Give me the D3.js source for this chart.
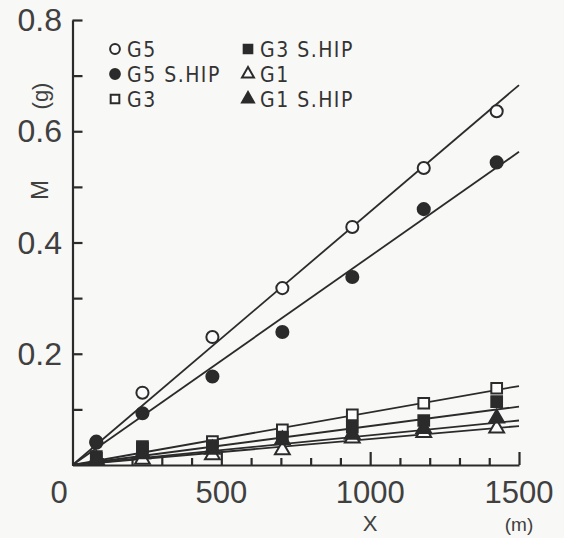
<!DOCTYPE html>
<html>
<head>
<meta charset="utf-8">
<script src="https://cdn.jsdelivr.net/npm/d3@7"></script>
<style>
  body { margin: 0; background: #f8f8f6; }
  svg { display: block; }
</style>
</head>
<body>
<svg id="chart" width="564" height="538"></svg>
<script>
// distances (m) where M was measured
const xValues = [80, 235, 470, 705, 940, 1180, 1425];

// series values (g)
const g5 = [0.040, 0.130, 0.230, 0.318, 0.428, 0.534, 0.636];
const g5Hip = [0.042, 0.093, 0.159, 0.239, 0.338, 0.460, 0.544];
const g3 = [0.015, 0.033, 0.042, 0.063, 0.090, 0.111, 0.138];
const g3Hip = [0.012, 0.030, 0.035, 0.050, 0.068, 0.080, 0.114];
const g1 = [0.008, 0.010, 0.018, 0.027, 0.048, 0.058, 0.066];
const g1Hip = [0.010, 0.020, 0.028, 0.045, 0.055, 0.065, 0.084];

// fitted lines: value of M at X = 0 and X = 1500
const fitEnds = [0, 1500];
const g5Fit = [0, 0.683];
const g5HipFit = [0, 0.563];
const g3Fit = [0, 0.142];
const g3HipFit = [0, 0.105];
const g1Fit = [0, 0.070];
const g1HipFit = [0, 0.080];

const seriesNames = ["G5", "G5 S.HIP", "G3", "G3 S.HIP", "G1", "G1 S.HIP"];

const xTickLabels = [500, 1000, 1500];
const yTickLabels = [0.2, 0.4, 0.6, 0.8];

const ink = "#2b2b2b";

let series = [
  { name: seriesNames[0], values: g5, fit: g5Fit, shape: d3.symbolCircle, filled: false },
  { name: seriesNames[1], values: g5Hip, fit: g5HipFit, shape: d3.symbolCircle, filled: true },
  { name: seriesNames[2], values: g3, fit: g3Fit, shape: d3.symbolSquare, filled: false },
  { name: seriesNames[3], values: g3Hip, fit: g3HipFit, shape: d3.symbolSquare, filled: true },
  { name: seriesNames[4], values: g1, fit: g1Fit, shape: d3.symbolTriangle, filled: false },
  { name: seriesNames[5], values: g1Hip, fit: g1HipFit, shape: d3.symbolTriangle, filled: true }
];

let svg = d3.select("#chart");

let xScale = d3.scaleLinear().domain([0, 1500]).range([72.5, 519]);
let yScale = d3.scaleLinear().domain([0, 0.8]).range([465, 20]);

// y axis, ticks pointing inside
let yAxis = d3.axisRight(yScale)
  .tickValues(d3.range(1, 9).map(i => i / 10))
  .tickSizeInner(10)
  .tickSizeOuter(0)
  .tickFormat("");

svg.append("g")
  .attr("transform", `translate(${xScale(0)},0)`)
  .call(yAxis);

// x axis, minor and major ticks pointing up
let xAxisMinor = d3.axisBottom(xScale)
  .tickValues(d3.range(1, 15).filter(i => i % 5 !== 0).map(i => i * 100))
  .tickSizeInner(-7)
  .tickSizeOuter(0)
  .tickFormat("");

let xAxisMajor = d3.axisBottom(xScale)
  .tickValues(xTickLabels)
  .tickSizeInner(-13)
  .tickSizeOuter(0)
  .tickFormat("");

svg.append("g")
  .attr("transform", `translate(0,${yScale(0)})`)
  .call(xAxisMinor);

svg.append("g")
  .attr("transform", `translate(0,${yScale(0)})`)
  .call(xAxisMajor)
  .select(".domain").remove();

svg.selectAll(".domain, .tick line")
  .attr("stroke", ink)
  .attr("stroke-width", 2.2);

// tick labels
let labelFont = "'Liberation Sans', Arial, sans-serif";
let labelInk = "#404040";

svg.append("g")
  .selectAll("text")
  .data(yTickLabels)
  .join("text")
  .attr("x", 62)
  .attr("y", d => yScale(d) + 11)
  .attr("text-anchor", "end")
  .attr("font-family", labelFont)
  .attr("font-size", 32)
  .attr("fill", labelInk)
  .text(d => d.toFixed(1));

svg.append("g")
  .selectAll("text")
  .data(xTickLabels)
  .join("text")
  .attr("x", d => xScale(d))
  .attr("y", 503)
  .attr("text-anchor", "middle")
  .attr("font-family", labelFont)
  .attr("font-size", 31)
  .attr("fill", labelInk)
  .text(d => d);

svg.append("text")
  .attr("x", 59)
  .attr("y", 503)
  .attr("text-anchor", "middle")
  .attr("font-family", labelFont)
  .attr("font-size", 31)
  .attr("fill", labelInk)
  .text("0");

// axis titles
svg.append("text")
  .attr("transform", "translate(48,190) rotate(-90)")
  .attr("text-anchor", "middle")
  .attr("font-family", labelFont)
  .attr("font-size", 24)
  .attr("fill", labelInk)
  .text("M");

svg.append("text")
  .attr("transform", "translate(48,96) rotate(-90)")
  .attr("text-anchor", "middle")
  .attr("font-family", labelFont)
  .attr("font-size", 22)
  .attr("fill", labelInk)
  .text("(g)");

svg.append("text")
  .attr("x", xScale(1000))
  .attr("y", 531)
  .attr("text-anchor", "middle")
  .attr("font-family", labelFont)
  .attr("font-size", 22)
  .attr("fill", labelInk)
  .text("X");

svg.append("text")
  .attr("x", xScale(1500))
  .attr("y", 531)
  .attr("text-anchor", "middle")
  .attr("font-family", labelFont)
  .attr("font-size", 19)
  .attr("fill", labelInk)
  .text("(m)");

// fitted lines
let fitLine = d3.line()
  .x((d, i) => xScale(fitEnds[i]))
  .y(d => yScale(d));

svg.append("g")
  .selectAll("path")
  .data(series)
  .join("path")
  .attr("d", d => fitLine(d.fit))
  .attr("fill", "none")
  .attr("stroke", ink)
  .attr("stroke-width", 1.8);

// markers
function markerPath(s, scale) {
  let size = s.shape === d3.symbolTriangle ? 95 : 115;
  return d3.symbol().type(s.shape).size(size * scale)();
}

let markerGroups = svg.append("g")
  .selectAll("g")
  .data(series)
  .join("g");

markerGroups.selectAll("path")
  .data(s => s.values.map((v, i) => ({ s: s, x: xValues[i], v: v })))
  .join("path")
  .attr("transform", d => `translate(${xScale(d.x)},${yScale(d.v)})`)
  .attr("d", d => markerPath(d.s, 1))
  .attr("fill", d => d.s.filled ? ink : "#fbfbfb")
  .attr("stroke", ink)
  .attr("stroke-width", 2);

// legend
let legendX = [115, 248];
let legendY = [49, 74, 99];

let legend = svg.append("g")
  .selectAll("g")
  .data(series)
  .join("g")
  .attr("transform", (d, i) => `translate(${legendX[Math.floor(i / 3)]},${legendY[i % 3]})`);

legend.append("path")
  .attr("d", d => markerPath(d, 0.65))
  .attr("fill", d => d.filled ? ink : "#fbfbfb")
  .attr("stroke", ink)
  .attr("stroke-width", 2);

legend.append("text")
  .attr("x", 12)
  .attr("y", 8)
  .attr("font-family", "'Liberation Sans Narrow', 'DejaVu Sans Condensed', sans-serif")
  .attr("font-size", 21)
  .attr("letter-spacing", 1.5)
  .attr("fill", "#333")
  .text(d => d.name);
</script>
</body>
</html>
